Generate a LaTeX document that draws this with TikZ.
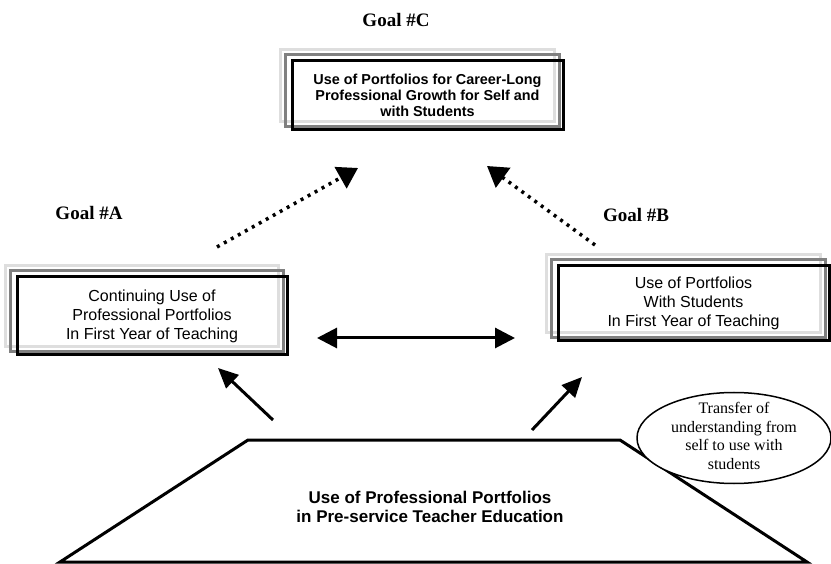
\documentclass[tikz,border=0pt]{standalone}
\usepackage{fontspec}
\setmainfont{Liberation Serif}
\newfontfamily\arialfont{Liberation Sans}
\usetikzlibrary{arrows.meta,shapes.geometric,backgrounds}

\tikzset{
  goalbox/.style={draw, line width=3pt, inner sep=0pt, align=center,
    font=\arialfont\fontsize{16}{19}\selectfont},
  lightframe/.style={draw=black!13, line width=3pt},
  darkframe/.style={draw=black!50, line width=3pt},
  goallabel/.style={font=\bfseries\fontsize{19}{22}\selectfont},
  solidarrow/.style={line width=3pt, -{Triangle[length=20pt,width=18pt]}},
  linkarrow/.style={line width=3pt, {Triangle[length=20pt,width=20pt]}-{Triangle[length=20pt,width=20pt]}},
  dottedarrow/.style={line width=3.5pt, dash pattern=on 3pt off 5pt,
    -{Triangle[length=20pt,width=24pt]}}
}

\begin{document}
\begin{tikzpicture}[x=1pt, y=-1pt]
  \useasboundingbox (0,0) rectangle (831,564);

  % Base
  \draw[line width=3pt] (60,562) -- (248,440) -- (620,440) -- (807,562) -- cycle;
  \node[font=\arialfont\bfseries\fontsize{17}{19}\selectfont, align=center] (base) at (430,507)
    {Use of Professional Portfolios\\in Pre-service Teacher Education};

  % Elipse
  \node[ellipse, draw, line width=1.5pt, fill=white, minimum width=194pt,
    minimum height=91pt] (transfer) at (734,438) {};
  \node[align=center, font=\fontsize{16}{18.5}\selectfont] (transfer-text) at (734,436)
    {Transfer of\\understanding from\\self to use with\\students};

  % Cajas de metas
  \node[goalbox, font=\arialfont\bfseries\fontsize{14.4}{16}\selectfont,
    minimum width=271pt, minimum height=69pt] (growth) at (427.5,95.5)
    {Use of Portfolios for Career-Long\\Professional Growth for Self and\\with Students};
  \node[goalbox, minimum width=270pt, minimum height=78pt] (continuing) at (152,316)
    {Continuing Use of\\Professional Portfolios\\In First Year of Teaching};
  \node[goalbox, minimum width=271pt, minimum height=75pt] (students) at (693.5,303.5)
    {Use of Portfolios\\With Students\\In First Year of Teaching};

  % Marcos grises detras de las cajas
  \begin{scope}[on background layer]
    \foreach \goal in {growth, continuing, students} {
      \draw[lightframe] ([shift={(-10,-10)}]\goal.north west)
        rectangle ([shift={(-10,-10)}]\goal.south east);
      \draw[darkframe] ([shift={(-5,-5)}]\goal.north west)
        rectangle ([shift={(-5,-5)}]\goal.south east);
    }
  \end{scope}

  % Etiquetas
  \node[goallabel] (goal-c) at (396,20) {Goal \#C};
  \node[goallabel] (goal-a) at (89,213) {Goal \#A};
  \node[goallabel] (goal-b) at (636,215) {Goal \#B};

  % Puntos de las flechas
  \coordinate (a-out) at (217,247);
  \coordinate (c-in-a) at (358,168);
  \coordinate (b-out) at (595,245);
  \coordinate (c-in-b) at (487,166);
  \coordinate (base-a) at (273,420);
  \coordinate (a-in) at (218,368);
  \coordinate (base-b) at (532,430);
  \coordinate (b-in) at (582,377);
  \coordinate (link-a) at (317,338);
  \coordinate (link-b) at (515,338);

  % Flechas
  \draw[dottedarrow] (a-out) -- (c-in-a);
  \draw[dottedarrow] (b-out) -- (c-in-b);
  \draw[solidarrow] (base-a) -- (a-in);
  \draw[solidarrow] (base-b) -- (b-in);
  \draw[linkarrow] (link-a) -- (link-b);

\end{tikzpicture}
\end{document}
